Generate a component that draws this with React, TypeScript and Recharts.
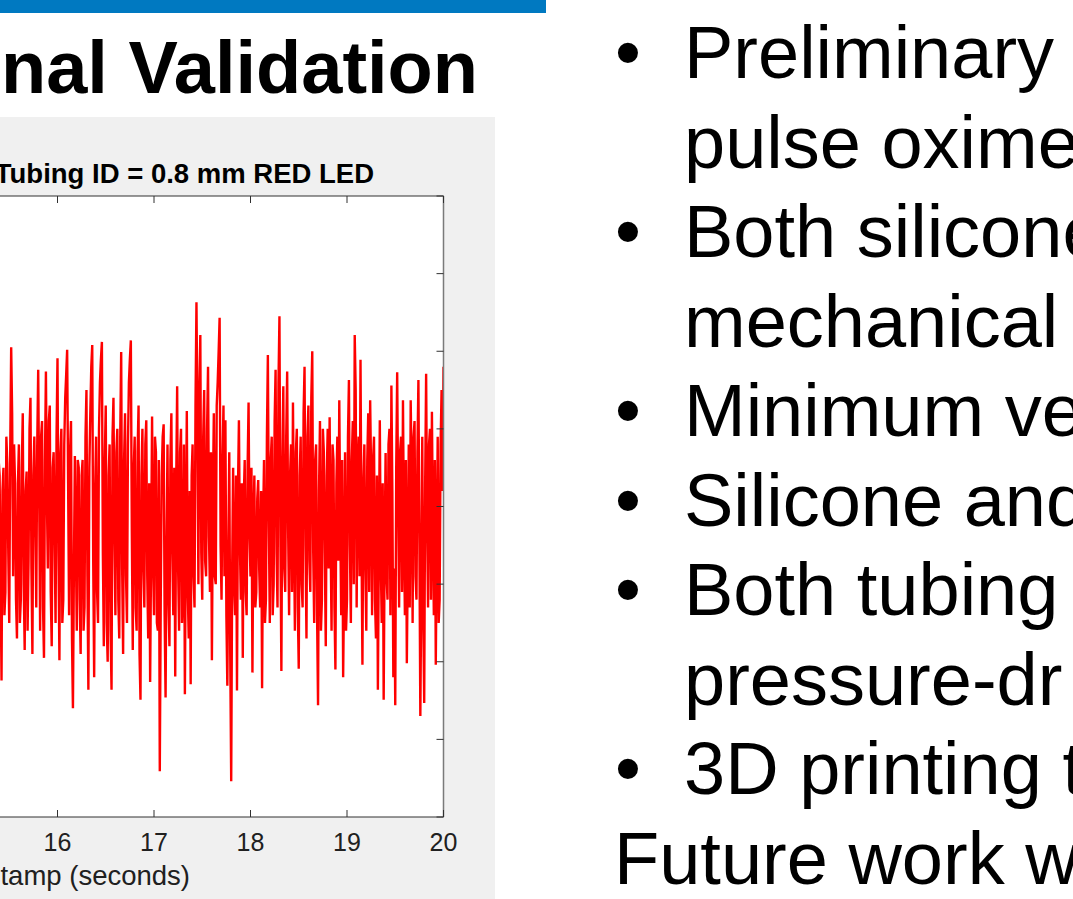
import React from 'react';
import { LineChart, Line, XAxis, YAxis, CartesianGrid } from 'recharts';

// RED LED photodiode trace, sampled every 10 ms
const SAMPLE_START = 15.38;
const SAMPLE_STEP = 0.01;
const redLedSignal = [
  -1.2, 0.6, 0.4, -0.9, -2.24, 0.2, 0.5, -1.4, -1.1, 0.9, 0.55, -0.6, -1.5, 0.7, 2.05, 1.2, -0.9, 0.8, 0.3, -1.2,
  -1.7, 0.3, 0.8, -1.5, -1.2, 0.5, 1.2, -1.0, -1.85, 0.2, 0.45, -1.6, -0.7, 1.0, 1.4, -0.8, -1.9, 0.4, 0.9, -0.2,
  -1.3, 0.8, 1.76, 0.2, -1.6, 0.9, 1.1, -1.3, -1.95, 0.6, 1.74, 0.1, -0.8, 1.1, 1.3, -1.1, -1.8, 0.5, 0.7, -0.4,
  -1.5, 0.9, 1.91, -0.6, -1.98, 0.7, 1.0, -1.5, -1.2, 0.8, 1.4, 1.7, 2.02, 0.3, -1.4, 0.7, 1.1, -1.7, -2.6, -0.8,
  0.65, -0.5, -1.6, 0.6, 0.5, -1.2, -1.9, 0.4, 0.6, -1.6, -1.3, 0.9, 1.5, -0.9, -2.36, 0.5, 1.2, 1.8, 2.08, -0.7,
  -2.2, 0.2, 0.9, -1.1, -1.5, 1.0, 1.6, 1.9, 2.12, -0.6, -1.8, 0.6, 1.3, -1.5, -2.0, 0.4, 0.8, -1.6, -2.36, 0.9,
  1.4, -0.4, -1.4, 0.7, 1.0, -1.2, -1.7, 0.9, 1.99, -0.8, -1.9, 0.6, 1.2, -0.9, -1.5, 0.8, 1.6, 1.9, 2.14, -0.3,
  -1.85, 0.5, 0.9, -1.3, -1.6, 0.7, 1.3, -1.9, -2.49, 0.4, 1.0, -0.8, -1.3, 0.8, 1.11, -0.9, -1.7, 0.3, -2.26, -0.6,
  1.16, -0.7, -1.4, 0.9, 0.7, -1.5, -1.6, 0.6, -3.41, -1.2, 0.4, 0.9, 1.06, -1.4, -2.46, -0.5, 0.8, -1.2, -1.8, 0.6,
  1.2, -0.6, -1.4, 0.5, -2.19, 0.3, 1.55, -0.8, -1.6, 0.7, 1.0, -1.5, -1.1, 0.8, -2.42, -0.4, 1.23, -1.1, -1.7, 0.2,
  -2.29, 0.4, 0.8, -0.9, -1.3, 1.3, 2.63, 1.1, -1.0, 1.5, 2.21, -0.6, -1.2, 0.9, 1.5, -0.7, -0.9, 1.0, 1.8, -0.4,
  -1.1, 0.7, -1.98, 0.1, 1.2, -0.9, -1.0, 1.3, 1.6, 2.0, 2.43, -0.5, -1.2, 0.6, 1.3, -0.9, 1.11, -1.4, -2.31, -0.6,
  0.7, -1.9, -3.54, -0.8, 0.5, -1.0, -1.4, 0.4, -2.37, 0.2, 1.11, -0.5, -1.2, 0.3, -1.95, 0.1, 0.6, -1.1, -1.4, 0.5,
  1.34, -0.4, -0.9, 0.5, -2.14, -0.2, 0.4, -1.3, -1.1, 0.1, 0.34, -0.8, -1.3, 0.2, -2.34, -0.3, 0.6, -1.5, -1.2, 0.9,
  1.95, -0.2, -1.5, 0.6, 0.9, -1.4, -1.0, 1.1, 1.76, -0.6, -1.3, 1.6, 2.45, -0.4, -2.12, 0.5, 1.55, -0.8, -1.1, 0.9,
  1.74, -0.3, -1.4, 0.4, 0.8, -1.1, 1.34, -0.2, -1.6, 0.7, 1.0, -1.3, -2.09, 0.4, 0.9, -1.0, -1.3, 1.2, 1.8, -0.5,
  -1.7, 0.9, 1.3, -0.7, -1.1, 1.4, 2.0, -0.6, -1.5, 0.6, 0.8, -1.4, -2.56, 0.2, 1.1, -1.6, -1.2, 1.0, 0.7, -0.6,
  -1.8, 0.4, 1.0, -0.8, 1.15, -0.4, -1.6, 0.8, 0.6, -1.3, -2.1, 0.3, 0.9, -0.7, 1.37, -0.2, -1.4, 0.6, -2.2, -1.0,
  0.7, -1.6, -1.2, 0.9, 1.63, -0.5, -1.5, 0.6, 1.1, -1.0, 2.21, 1.5, -1.3, 0.5, 0.9, -0.9, 1.89, -0.4, -2.04, 0.3,
  0.8, -0.8, -1.6, 0.6, 1.2, -1.1, 1.37, 0.4, -1.4, 0.6, 0.9, -1.2, -1.7, 0.4, -2.36, -0.6, 1.11, -0.7, -1.5, 0.3,
  -2.49, -0.6, 0.69, -0.9, -1.2, 0.8, 1.0, -1.4, 1.56, 0.2, -2.2, -0.8, -2.56, 0.5, 1.73, 0.1, -1.3, 0.7, 0.9, -1.1,
  1.37, -0.3, -1.4, 0.6, -2.02, -0.7, 0.8, -1.3, 1.37, 0.4, -1.5, 0.9, 1.1, -0.9, -1.2, 0.7, 1.63, -0.4, -2.7, -1.0,
  0.9, -1.4, -2.53, 0.3, 1.71, -0.2, -1.3, 0.8, 1.0, -1.2, 1.22, -0.3, -1.4, 0.6, -2.04, -0.5, 0.9, -1.5, -1.2, 0.8,
  1.5, 0.2, 1.8,
];

const timeTicks = [16, 17, 18, 19, 20];
const levelTicks = [-4, -3, -2, -1, 0, 1, 2, 3, 4];

const chartTitle = 'Tubing ID = 0.8 mm RED LED';
const xAxisTitle = 'Timestamp (seconds)';
const slideTitle = 'nal Validation';

const bulletRows = [
  { text: 'Preliminary', bullet: true },
  { text: 'pulse oximeter', bullet: false },
  { text: 'Both silicone', bullet: true },
  { text: 'mechanical', bullet: false },
  { text: 'Minimum ve', bullet: true },
  { text: 'Silicone and', bullet: true },
  { text: 'Both tubing', bullet: true },
  { text: 'pressure-dr', bullet: false },
  { text: '3D printing t', bullet: true },
];
const closingLine = 'Future work w';

const signalData = redLedSignal.map((v, i) => ({
  t: Number((SAMPLE_START + i * SAMPLE_STEP).toFixed(2)),
  v,
}));

const FONT = '"Liberation Sans", Arial, Helvetica, sans-serif';
const AXIS = '#303030';
const TICK_LEN = 7;

const BottomTick = (props: any) => {
  const { x, y, payload } = props;
  return (
    <g>
      <line x1={x} x2={x} y1={y} y2={y - TICK_LEN} stroke={AXIS} strokeWidth={1} />
      <text x={x} y={y + 34} textAnchor="middle" fontFamily={FONT} fontSize={25} fill="#202020">
        {payload.value}
      </text>
    </g>
  );
};

const TopTick = (props: any) => {
  const { x, y } = props;
  return <line x1={x} x2={x} y1={y} y2={y + TICK_LEN} stroke={AXIS} strokeWidth={1} />;
};

const RightTick = (props: any) => {
  const { x, y } = props;
  return <line x1={x} x2={x - TICK_LEN} y1={y} y2={y} stroke={AXIS} strokeWidth={1} />;
};

export default function App() {
  const lineStep = 89.5;
  const firstBaseline = 78;
  return (
    <div
      style={{
        position: 'fixed',
        left: 0,
        top: 0,
        width: 1073,
        height: 899,
        overflow: 'hidden',
        background: '#ffffff',
      }}
    >
      {/* figure panel */}
      <div
        style={{
          position: 'absolute',
          left: 0,
          top: 117,
          width: 495,
          height: 782,
          background: '#f0f0f0',
          overflow: 'hidden',
        }}
      >
        <div style={{ position: 'absolute', left: -100, top: 0 }}>
          <LineChart
            width={595}
            height={782}
            data={signalData}
            margin={{ top: 78, right: 50.5, bottom: 0, left: 61 }}
          >
            <CartesianGrid xAxisId="b" yAxisId="l" horizontal={false} vertical={false} fill="#ffffff" />
            <Line
              xAxisId="b"
              yAxisId="l"
              dataKey="v"
              type="linear"
              stroke="#ff0000"
              strokeWidth={2.4}
              dot={false}
              activeDot={false}
              isAnimationActive={false}
            />
            <XAxis
              xAxisId="b"
              dataKey="t"
              type="number"
              orientation="bottom"
              domain={[15, 20]}
              allowDataOverflow
              ticks={timeTicks}
              interval={0}
              height={82}
              tickSize={0}
              tickMargin={0}
              tickLine={false}
              axisLine={{ stroke: AXIS, strokeWidth: 1 }}
              tick={<BottomTick />}
            />
            <XAxis
              xAxisId="t"
              dataKey="t"
              type="number"
              orientation="top"
              domain={[15, 20]}
              allowDataOverflow
              ticks={timeTicks}
              interval={0}
              height={1}
              tickSize={0}
              tickMargin={0}
              tickLine={false}
              axisLine={{ stroke: AXIS, strokeWidth: 1 }}
              tick={<TopTick />}
            />
            <YAxis yAxisId="l" type="number" domain={[-4, 4]} allowDataOverflow hide />
            <YAxis
              yAxisId="r"
              type="number"
              orientation="right"
              domain={[-4, 4]}
              allowDataOverflow
              ticks={levelTicks}
              interval={0}
              width={1}
              tickSize={0}
              tickMargin={0}
              tickLine={false}
              axisLine={{ stroke: '#7a7a7a', strokeWidth: 1.5 }}
              tick={<RightTick />}
            />
          </LineChart>
        </div>
        <svg
          width={495}
          height={782}
          style={{ position: 'absolute', left: 0, top: 0, pointerEvents: 'none' }}
        >
          <text x={374} y={66} textAnchor="end" fontFamily={FONT} fontWeight="bold" fontSize={27.5} fill="#000">
            {chartTitle}
          </text>
          <text x={190} y={768} textAnchor="end" fontFamily={FONT} fontSize={27.5} fill="#202020">
            {xAxisTitle}
          </text>
        </svg>
      </div>

      {/* slide header and bullet text */}
      <svg
        width={1073}
        height={899}
        style={{ position: 'absolute', left: 0, top: 0, pointerEvents: 'none' }}
      >
        <rect x={0} y={0} width={546} height={13} fill="#0079c1" />
        <text x={478} y={93} textAnchor="end" fontFamily={FONT} fontWeight="bold" fontSize={74} fill="#000">
          {slideTitle}
        </text>
        {bulletRows.map((row, i) => (
          <g key={i}>
            {row.bullet && (
              <text x={615} y={firstBaseline + i * lineStep} fontFamily={FONT} fontSize={74} fill="#000">
                •
              </text>
            )}
            <text x={684} y={firstBaseline + i * lineStep} fontFamily={FONT} fontSize={74} fill="#000">
              {row.text}
            </text>
          </g>
        ))}
        <text x={614} y={firstBaseline + bulletRows.length * lineStep} fontFamily={FONT} fontSize={74} fill="#000">
          {closingLine}
        </text>
      </svg>
    </div>
  );
}
